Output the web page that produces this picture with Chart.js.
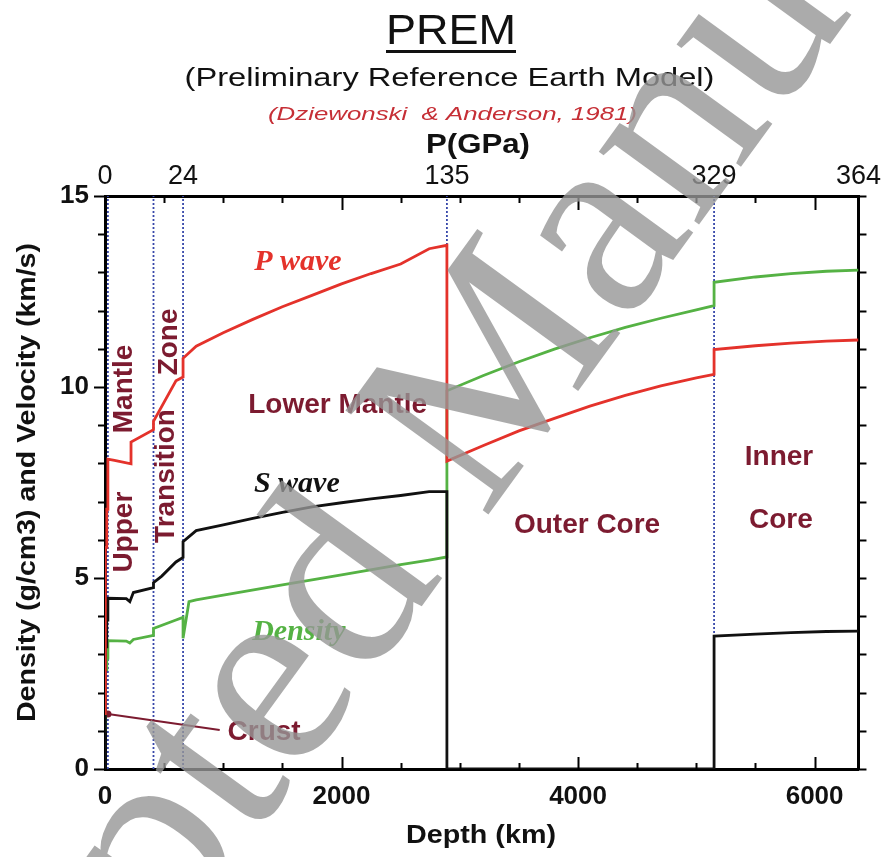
<!DOCTYPE html>
<html>
<head>
<meta charset="utf-8">
<title>PREM</title>
<script src="https://cdn.jsdelivr.net/npm/chart.js@4.4.1/dist/chart.umd.min.js"></script>
<style>
  html, body { margin: 0; padding: 0; background: #ffffff; }
  #wrap { width: 884px; height: 857px; position: relative; }
</style>
</head>
<body>
<div id="wrap"><canvas id="prem"></canvas></div>
<script>
// PREM radial profiles. Depth in km; a repeated depth marks a discontinuity.
const pWaveDepth = [0, 3, 3, 15, 15, 24.4, 24.4, 80, 220, 220, 410, 410, 600, 660, 660,
  771, 1000, 1250, 1500, 1750, 2000, 2250, 2500, 2741, 2891,
  2891, 3200, 3500, 3800, 4100, 4400, 4700, 5000, 5150,
  5150, 5500, 5800, 6100, 6371];
const pWaveVel = [1.45, 1.45, 5.8, 5.8, 6.8, 6.8, 8.11, 8.08, 7.99, 8.56, 8.88, 9.1, 10.16, 10.26, 10.75,
  11.07, 11.42, 11.77, 12.1, 12.4, 12.7, 12.97, 13.22, 13.62, 13.71,
  8.06, 8.47, 8.85, 9.18, 9.5, 9.78, 10.03, 10.24, 10.33,
  10.98, 11.08, 11.15, 11.2, 11.23];

const sWaveDepth = [0, 3, 3, 15, 15, 24.4, 24.4, 180, 210, 240, 410, 410, 480, 600, 660, 660,
  771, 1000, 1250, 1500, 1750, 2000, 2250, 2500, 2741, 2891,
  2891, 5150,
  5150, 5500, 5800, 6100, 6371];
const sWaveVel = [0, 0, 3.2, 3.2, 3.9, 3.9, 4.47, 4.46, 4.38, 4.62, 4.75, 4.88, 5.05, 5.42, 5.54, 5.95,
  6.24, 6.39, 6.56, 6.72, 6.86, 6.97, 7.07, 7.16, 7.26, 7.26,
  0, 0,
  3.48, 3.53, 3.57, 3.6, 3.61];

const densityDepth = [0, 3, 3, 15, 15, 24.4, 24.4, 180, 210, 240, 410, 410, 600, 660, 660, 710,
  771, 1000, 1500, 2000, 2500, 2741, 2891,
  2891, 3200, 3500, 3800, 4100, 4400, 4700, 5000, 5150,
  5150, 5500, 5800, 6100, 6371];
const densityVal = [1.02, 1.02, 2.6, 2.6, 2.9, 2.9, 3.36, 3.35, 3.3, 3.39, 3.5, 3.68, 3.9, 3.97, 3.42, 4.38,
  4.43, 4.55, 4.82, 5.08, 5.35, 5.47, 5.55,
  9.9, 10.3, 10.66, 10.99, 11.29, 11.56, 11.8, 12.02, 12.13,
  12.74, 12.88, 12.97, 13.03, 13.06];

// leader line from the crust to its label
const crustPointerDepth = [25, 970];
const crustPointerVal = [1.44, 1.02];

// layer boundaries (Moho, 410, 660, core-mantle, inner-core)
const boundaryDepths = [24.4, 410, 660, 2891, 5150];

// axis ticks
const depthTicks = [0, 2000, 4000, 6000];
const valueTicks = [0, 5, 10, 15];
const pressureTickDepths = [0, 660, 2891, 5150, 6371];
const pressureLabels = ['0', '24', '135', '329', '364'];

const RED = '#e4322b';
const GREEN = '#55b244';
const BLACK = '#111111';
const MAROON = '#7c1b30';
const BLUE = '#3848aa';

const pts = (xs, ys) => xs.map((x, i) => ({ x: x, y: ys[i] }));

function fitText(ctx, text, cx, y, font, color, width, baseline) {
  ctx.save();
  ctx.font = font;
  const w = ctx.measureText(text).width;
  const s = width ? width / w : 1;
  ctx.translate(cx, y);
  ctx.scale(s, 1);
  ctx.textAlign = 'center';
  ctx.textBaseline = baseline || 'alphabetic';
  ctx.fillStyle = color;
  ctx.fillText(text, 0, 0);
  ctx.restore();
}

// text placed in data coordinates inside the plot
const regionLabels = [
  { text: 'Lower Mantle', depth: 1967, value: 9.53 },
  { text: 'Outer Core', depth: 4076, value: 6.39 },
  { text: 'Inner', depth: 5699, value: 8.17 },
  { text: 'Core', depth: 5715, value: 6.52 },
  { text: 'Crust', depth: 1345, value: 0.97 },
  { text: 'Upper', depth: 160, value: 6.2, rotate: true },
  { text: 'Mantle', depth: 160, value: 9.95, rotate: true },
  { text: 'Transition', depth: 521, value: 7.67, rotate: true },
  { text: 'Zone', depth: 546, value: 11.18, rotate: true }
];
const seriesLabels = [
  { text: 'P wave', depth: 1631, value: 13.27, color: RED },
  { text: 'S wave', depth: 1622, value: 7.46, color: BLACK },
  { text: 'Density', depth: 1639, value: 3.59, color: GREEN }
];

const whiteBackground = {
  id: 'whiteBackground',
  beforeDraw(chart) {
    const ctx = chart.ctx;
    ctx.save();
    ctx.fillStyle = '#ffffff';
    ctx.fillRect(0, 0, chart.width, chart.height);
    ctx.restore();
  }
};

// inward ticks on the depth axes, outward ticks on the value axes
const tickMarks = {
  id: 'tickMarks',
  afterDraw(chart) {
    const { ctx, chartArea: a, scales } = chart;
    ctx.save();
    ctx.strokeStyle = '#000';
    ctx.lineWidth = 2;
    ctx.beginPath();
    for (let d = 500; d < 6371; d += 500) {
      const px = Math.round(scales.x.getPixelForValue(d)) + 0.5;
      const major = d % 2000 === 0;
      ctx.moveTo(px, a.bottom);
      ctx.lineTo(px, a.bottom - (major ? 12 : 6));
      ctx.moveTo(px, a.top);
      ctx.lineTo(px, a.top + (major ? 14 : 7));
    }
    for (let v = 0; v <= 15; v++) {
      const py = Math.round(scales.y.getPixelForValue(v)) + 0.5;
      const major = v % 5 === 0;
      ctx.moveTo(a.left, py);
      ctx.lineTo(a.left - (major ? 11 : 7), py);
      ctx.moveTo(a.right, py);
      ctx.lineTo(a.right + 8, py);
    }
    ctx.stroke();
    ctx.restore();
  }
};

const annotations = {
  id: 'annotations',
  afterDraw(chart) {
    const { ctx, scales } = chart;
    const X = v => scales.x.getPixelForValue(v);
    const Y = v => scales.y.getPixelForValue(v);

    // header
    fitText(ctx, 'PREM', 451, 44, '43px "Liberation Sans"', '#111', 130);
    ctx.save();
    ctx.fillStyle = '#111';
    ctx.fillRect(386, 50, 130, 3);
    ctx.restore();
    fitText(ctx, '(Preliminary Reference Earth Model)', 449.5, 86, '26px "Liberation Sans"', '#111', 530);
    fitText(ctx, '(Dziewonski  & Anderson, 1981)', 452.5, 120, 'italic 18px "Liberation Sans"', '#c62f36', 369);
    fitText(ctx, 'P(GPa)', 478, 153, 'bold 28px "Liberation Sans"', '#111', 104);

    // axis titles
    fitText(ctx, 'Depth (km)', 481, 843, 'bold 26px "Liberation Sans"', '#111', 150);
    ctx.save();
    ctx.translate(28, (chart.chartArea.top + chart.chartArea.bottom) / 2);
    ctx.rotate(-Math.PI / 2);
    fitText(ctx, 'Density (g/cm3) and Velocity (km/s)', 0, 0, 'bold 26px "Liberation Sans"', '#111', 479, 'middle');
    ctx.restore();

    // layer names
    regionLabels.forEach(l => {
      ctx.save();
      ctx.translate(X(l.depth), Y(l.value));
      if (l.rotate) ctx.rotate(-Math.PI / 2);
      fitText(ctx, l.text, 0, 0, 'bold 28px "Liberation Sans"', MAROON, null, 'middle');
      ctx.restore();
    });
    // curve names
    seriesLabels.forEach(l => {
      fitText(ctx, l.text, X(l.depth), Y(l.value), 'italic bold 30px "Liberation Serif"', l.color, null, 'middle');
    });

    // watermark
    ctx.save();
    ctx.translate(-155, 1400);
    ctx.rotate(-54 * Math.PI / 180);
    ctx.font = '270px "Liberation Serif"';
    ctx.fillStyle = 'rgba(150,150,150,0.8)';
    ctx.textAlign = 'left';
    ctx.textBaseline = 'alphabetic';
    ctx.fillText('Accepted Manuscript', 0, 0);
    ctx.restore();
  }
};

const lineSet = (label, data, color, width) => ({
  label: label, data: data, borderColor: color, backgroundColor: color,
  borderWidth: width, showLine: true, pointRadius: 0, xAxisID: 'x', yAxisID: 'y'
});

const datasets = [
  lineSet('P wave', pts(pWaveDepth, pWaveVel), RED, 2.8),
  lineSet('S wave', pts(sWaveDepth, sWaveVel), BLACK, 2.8),
  lineSet('Density', pts(densityDepth, densityVal), GREEN, 2.8),
  Object.assign(lineSet('Crust', pts(crustPointerDepth, crustPointerVal), MAROON, 2),
    { pointRadius: [3.5, 0], pointBorderWidth: 0, pointBackgroundColor: MAROON })
].concat(boundaryDepths.map(d => Object.assign(
  lineSet('boundary', [{ x: d, y: 0 }, { x: d, y: 15 }], BLUE, 1.8), { borderDash: [2, 2] })));

const axisBorder = { display: true, color: '#000', width: 3 };
const noGrid = { display: false, drawTicks: false };
const plainNumber = v => String(v);

new Chart(document.getElementById('prem'), {
  type: 'scatter',
  data: { datasets: datasets },
  options: {
    responsive: true,
    maintainAspectRatio: false,
    animation: false,
    layout: { padding: 0 },
    plugins: { legend: { display: false }, tooltip: { enabled: false } },
    scales: {
      x: {
        type: 'linear', position: 'bottom', min: 0, max: 6371,
        afterBuildTicks: s => { s.ticks = depthTicks.map(v => ({ value: v })); },
        afterFit: s => { s.height = 88; },
        grid: noGrid, border: axisBorder,
        ticks: { callback: plainNumber, font: { family: 'Liberation Sans', size: 26, weight: 'bold' }, color: '#111',
          padding: 12, maxRotation: 0, autoSkip: false }
      },
      xTop: {
        type: 'linear', position: 'top', min: 0, max: 6371,
        afterBuildTicks: s => { s.ticks = pressureTickDepths.map(v => ({ value: v })); },
        afterFit: s => { s.height = 196; },
        grid: noGrid, border: axisBorder,
        ticks: { callback: (v, i) => pressureLabels[i],
          font: { family: 'Liberation Sans', size: 27, weight: 'normal' }, color: '#111',
          padding: 3, maxRotation: 0, autoSkip: false }
      },
      y: {
        type: 'linear', position: 'left', min: 0, max: 15,
        afterBuildTicks: s => { s.ticks = valueTicks.map(v => ({ value: v })); },
        afterFit: s => { s.width = 105; },
        grid: noGrid, border: axisBorder,
        ticks: { callback: plainNumber, font: { family: 'Liberation Sans', size: 26, weight: 'bold' }, color: '#111', padding: 16 }
      },
      yRight: {
        type: 'linear', position: 'right', min: 0, max: 15,
        afterFit: s => { s.width = 21; },
        grid: noGrid, border: axisBorder,
        ticks: { display: false }
      }
    }
  },
  plugins: [whiteBackground, tickMarks, annotations]
});
</script>
</body>
</html>
